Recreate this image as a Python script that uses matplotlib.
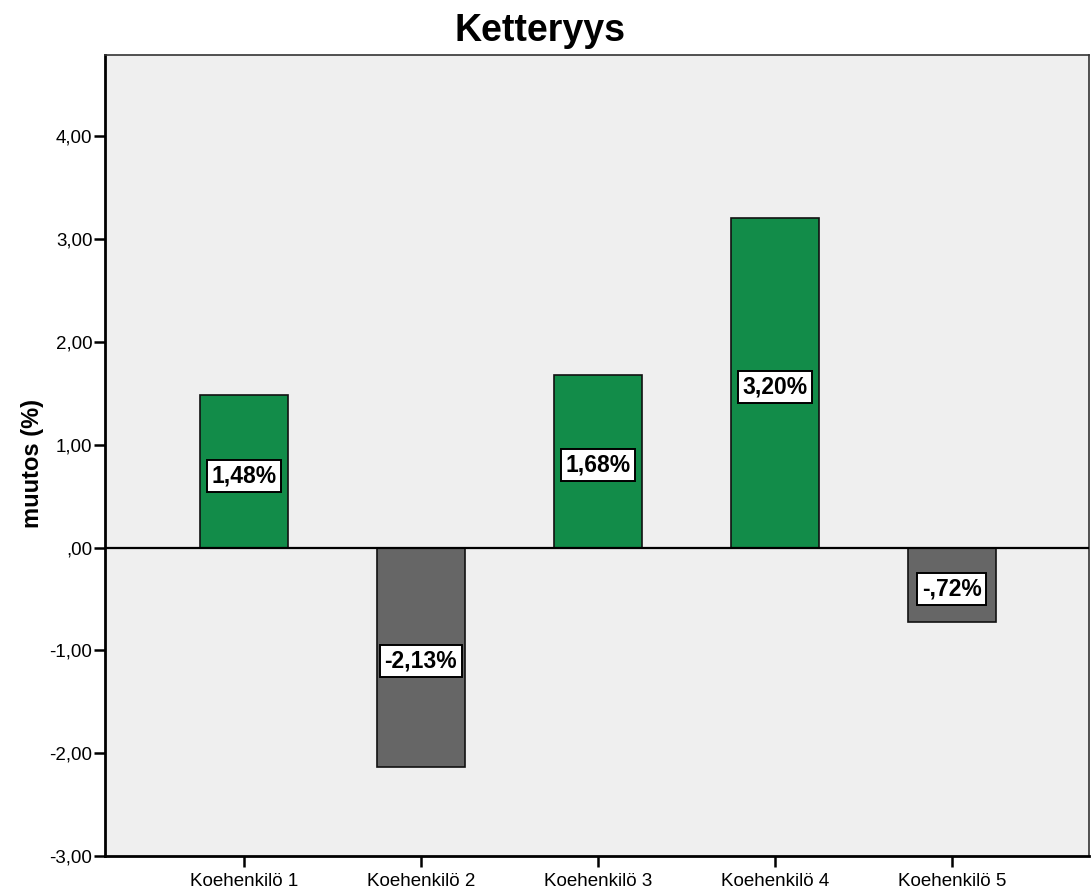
import matplotlib
matplotlib.use("Agg")
import matplotlib.pyplot as plt

categories = ["Koehenkilö 1", "Koehenkilö 2", "Koehenkilö 3", "Koehenkilö 4", "Koehenkilö 5"]
values = [1.48, -2.13, 1.68, 3.20, -0.72]
labels = ["1,48%", "-2,13%", "1,68%", "3,20%", "-,72%"]
yticks = [-3, -2, -1, 0, 1, 2, 3, 4]
ytick_labels = ["-3,00", "-2,00", "-1,00", ",00", "1,00", "2,00", "3,00", "4,00"]

plt.rcParams['font.family'] = ['Liberation Sans', 'DejaVu Sans']

fig = plt.figure(figsize=(10.91, 8.96), dpi=100)
ax = fig.add_axes([105/1091, 40/896, (1089-105)/1091, (856-55)/896])
ax.set_facecolor('#efefef')

x = list(range(len(categories)))
colors = ['#128c49' if v >= 0 else '#666666' for v in values]
ax.bar(x, values, width=0.5, color=colors, edgecolor='#111111', linewidth=1.2, zorder=2)
ax.axhline(0, color='black', linewidth=1.6, zorder=3)

for xi, v, lab in zip(x, values, labels):
    ax.annotate(lab, xy=(xi, v / 2), xytext=(0, -3), textcoords='offset points',
                ha='center', va='center', fontsize=16.5, fontweight='bold',
                bbox=dict(boxstyle='square,pad=0.2', facecolor='white', edgecolor='black', linewidth=1.4),
                zorder=4)

ax.set_xlim(-0.785, 4.775)
ax.set_ylim(-3, 4.79)
ax.set_yticks(yticks)
ax.set_yticklabels(ytick_labels, fontsize=13.5)
ax.set_xticks(x)
ax.set_xticklabels(categories, fontsize=13.5)
ax.tick_params(axis='both', direction='out', length=8, width=1.8, color='black')
ax.tick_params(axis='y', pad=1)
ax.tick_params(axis='x', pad=4)

for side in ['left', 'bottom']:
    ax.spines[side].set_linewidth(2)
    ax.spines[side].set_color('black')
for side in ['top', 'right']:
    ax.spines[side].set_linewidth(1.2)
    ax.spines[side].set_color('#333333')

ax.set_ylabel('muutos (%)', fontsize=17, fontweight='bold')
ax.yaxis.set_label_coords(-0.062, 0.49)
fig.text(540/1091, 1 - 31/896, 'Ketteryys', ha='center', va='center', fontsize=27, fontweight='bold')

fig.savefig('out.png', dpi=100)
